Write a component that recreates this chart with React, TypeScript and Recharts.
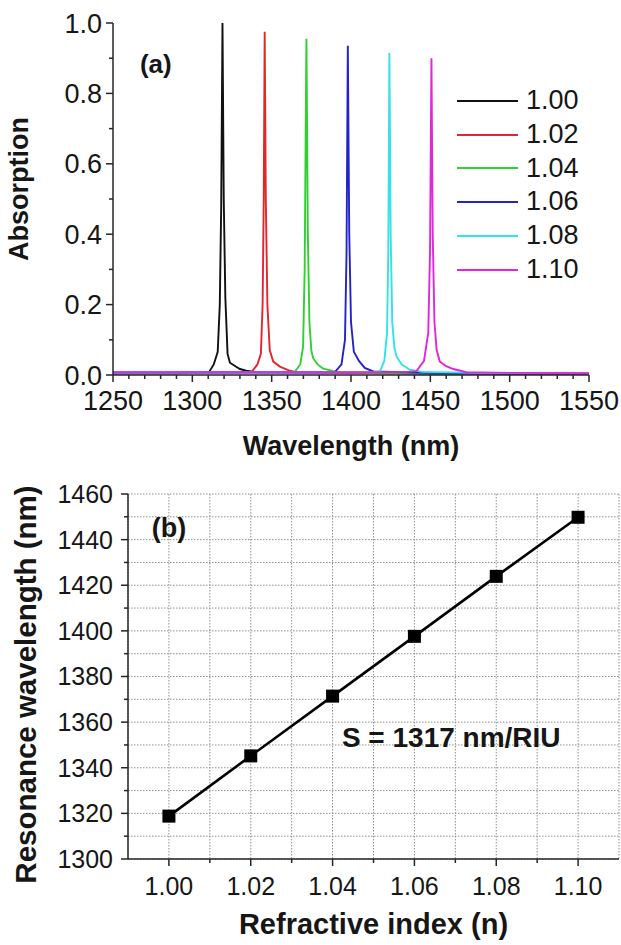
import React from 'react';
import { LineChart, Line, XAxis, YAxis, CartesianGrid, ReferenceDot, Label } from 'recharts';

const FONT = '"Liberation Sans", Arial, Helvetica, sans-serif';
const AXIS = '#262626';
const TEXT = '#161616';

// ---- (a) absorption spectra ----
const seriesNames = ['1.00', '1.02', '1.04', '1.06', '1.08', '1.10'];
const seriesColors = ['#111111', '#e3262b', '#2fd02f', '#2323cc', '#31e3ea', '#e027de'];

const wl100 = [1250, 1290, 1305, 1310.5, 1313.5, 1316, 1317.3, 1318.2, 1319, 1319.8, 1320.8, 1322.2, 1323.7, 1327.4, 1330, 1334, 1340.5, 1380, 1450, 1550];
const ab100 = [0.004, 0.005, 0.006, 0.008, 0.03, 0.066, 0.2, 0.48, 1.0, 0.5, 0.22, 0.06, 0.035, 0.024, 0.017, 0.012, 0.008, 0.006, 0.004, 0.003];

const wl102 = [1250, 1300, 1330, 1337.3, 1341, 1343.2, 1344.3, 1345, 1345.6, 1346.3, 1347.3, 1348.8, 1351, 1355.2, 1361.5, 1365.7, 1400, 1480, 1550];
const ab102 = [0.006, 0.006, 0.007, 0.008, 0.03, 0.06, 0.2, 0.5, 0.975, 0.5, 0.2, 0.07, 0.038, 0.024, 0.012, 0.008, 0.006, 0.005, 0.004];

const wl104 = [1250, 1320, 1355, 1364.6, 1368, 1369.8, 1370.8, 1371.9, 1372.8, 1373.8, 1375, 1376.2, 1379, 1382.5, 1391, 1420, 1550];
const ab104 = [0.007, 0.007, 0.008, 0.009, 0.03, 0.08, 0.3, 0.955, 0.4, 0.15, 0.07, 0.047, 0.03, 0.018, 0.009, 0.006, 0.004];

const wl106 = [1250, 1350, 1385, 1390, 1394, 1396.2, 1397.2, 1398, 1398.9, 1400, 1401.8, 1405, 1408.7, 1414, 1450, 1550];
const ab106 = [0.007, 0.007, 0.008, 0.009, 0.03, 0.1, 0.35, 0.935, 0.4, 0.15, 0.066, 0.04, 0.02, 0.01, 0.006, 0.004];

const wl108 = [1250, 1380, 1415, 1418.2, 1421, 1422.7, 1423.5, 1424.2, 1425, 1426, 1427.3, 1428.7, 1432, 1437, 1445, 1480, 1550];
const ab108 = [0.007, 0.007, 0.008, 0.01, 0.04, 0.12, 0.35, 0.915, 0.4, 0.15, 0.08, 0.052, 0.03, 0.015, 0.009, 0.006, 0.004];

const wl110 = [1250, 1400, 1435, 1441.3, 1446, 1448.7, 1449.8, 1450.7, 1451.5, 1452.6, 1454, 1456, 1460, 1464.4, 1472.8, 1500, 1550];
const ab110 = [0.008, 0.008, 0.009, 0.011, 0.04, 0.12, 0.35, 0.9, 0.4, 0.15, 0.07, 0.038, 0.025, 0.017, 0.008, 0.006, 0.005];

const spectraWl = [wl100, wl102, wl104, wl106, wl108, wl110];
const spectraAb = [ab100, ab102, ab104, ab106, ab108, ab110];

const xTicksA = [1250, 1260, 1270, 1280, 1290, 1300, 1310, 1320, 1330, 1340, 1350, 1360, 1370, 1380, 1390, 1400, 1410, 1420, 1430, 1440, 1450, 1460, 1470, 1480, 1490, 1500, 1510, 1520, 1530, 1540, 1550];
const xMajorA = [1250, 1300, 1350, 1400, 1450, 1500, 1550];
const yTicksA = [0, 0.1, 0.2, 0.3, 0.4, 0.5, 0.6, 0.7, 0.8, 0.9, 1.0];
const yMajorA = [0, 0.2, 0.4, 0.6, 0.8, 1.0];

// ---- (b) resonance wavelength vs refractive index ----
const refIndex = [1.0, 1.02, 1.04, 1.06, 1.08, 1.1];
const resonance = [1318.8, 1345.2, 1371.4, 1397.6, 1423.9, 1449.8];

const xTicksB = [1.0, 1.01, 1.02, 1.03, 1.04, 1.05, 1.06, 1.07, 1.08, 1.09, 1.1];
const xMajorB = [1.0, 1.02, 1.04, 1.06, 1.08, 1.1];
const yTicksB = [1300, 1310, 1320, 1330, 1340, 1350, 1360, 1370, 1380, 1390, 1400, 1410, 1420, 1430, 1440, 1450, 1460];
const yMajorB = [1300, 1320, 1340, 1360, 1380, 1400, 1420, 1440, 1460];

const spectra = spectraWl.map((wl, s) => wl.map((x, i) => ({ x, y: spectraAb[s][i] })));
const dataB = refIndex.map((n, i) => ({ n, wl: resonance[i] }));

const isMajor = (v: number, majors: number[]) => majors.some((m) => Math.abs(m - v) < 1e-6);

const titleText = { fontFamily: FONT, fontWeight: 700, fill: TEXT };

function Tick(props: any) {
  const { x, y, payload, side, majors, fmt, gap = 11, base = 35, size = 27 } = props;
  const major = isMajor(payload.value, majors);
  const len = major ? 7 : 4;
  const style = { fontSize: size, fontFamily: FONT, fill: TEXT };
  if (side === 'bottom') {
    return (
      <g>
        <line x1={x} x2={x} y1={y} y2={y + len} stroke={AXIS} strokeWidth={1.5} />
        {major && (
          <text x={x} y={y + base} textAnchor="middle" style={style}>
            {fmt(payload.value)}
          </text>
        )}
      </g>
    );
  }
  if (side === 'left') {
    return (
      <g>
        <line x1={x} x2={x - len} y1={y} y2={y} stroke={AXIS} strokeWidth={1.5} />
        {major && (
          <text x={x - gap} y={y + size * 0.355} textAnchor="end" style={style}>
            {fmt(payload.value)}
          </text>
        )}
      </g>
    );
  }
  if (side === 'top') {
    return <line x1={x} x2={x} y1={y} y2={y + len} stroke={AXIS} strokeWidth={1.5} />;
  }
  return <line x1={x} x2={x - len} y1={y} y2={y} stroke={AXIS} strokeWidth={1.5} />;
}

function XTitle(props: any) {
  const { viewBox, text, dy, size } = props;
  return (
    <text x={viewBox.x + viewBox.width / 2} y={viewBox.y + dy} textAnchor="middle" style={{ ...titleText, fontSize: size }}>
      {text}
    </text>
  );
}

function YTitle(props: any) {
  const { viewBox, text, bx, shift, size } = props;
  const cy = viewBox.y + viewBox.height / 2 + shift;
  return (
    <text
      transform={`translate(${viewBox.x + bx},${cy}) rotate(-90)`}
      textAnchor="middle"
      style={{ ...titleText, fontSize: size }}
    >
      {text}
    </text>
  );
}

function SquareDot(props: any) {
  const { cx, cy, index } = props;
  if (cx == null || cy == null) return null;
  return <rect key={`sq-${index}`} x={cx - 6.5} y={cy - 6.5} width={13} height={13} fill="#000" />;
}

const axisLine = { stroke: AXIS, strokeWidth: 1.5 };
const fmtInt = (v: number) => String(v);
const fmt1 = (v: number) => v.toFixed(1);
const fmt2 = (v: number) => v.toFixed(2);

function Legend() {
  return (
    <div style={{ position: 'absolute', left: 457, top: 84, fontFamily: FONT }}>
      {seriesNames.map((name, i) => (
        <div key={name} style={{ display: 'flex', alignItems: 'center', height: 33.8 }}>
          <svg width={61} height={4}>
            <line x1={0} x2={61} y1={2} y2={2} stroke={seriesColors[i]} strokeWidth={2} />
          </svg>
          <span style={{ marginLeft: 8, fontSize: 27, color: TEXT, lineHeight: '33.8px' }}>{name}</span>
        </div>
      ))}
    </div>
  );
}

export default function App() {
  return (
    <div style={{ position: 'absolute', left: 0, top: 0, width: 621, height: 945, background: '#fff', fontFamily: FONT }}>
      <div style={{ position: 'absolute', left: 0, top: 0 }}>
        <LineChart width={621} height={470} margin={{ top: 23, right: 32, bottom: 0, left: 0 }}>
          <XAxis
            dataKey="x"
            type="number"
            domain={[1250, 1550]}
            ticks={xTicksA}
            interval={0}
            height={95}
            tickSize={0}
            tickMargin={0}
            axisLine={axisLine}
            tick={<Tick side="bottom" majors={xMajorA} fmt={fmtInt} base={35} />}
            allowDataOverflow
          >
            <Label content={(p: any) => <XTitle {...p} text="Wavelength (nm)" dy={80} size={27} />} />
          </XAxis>
          <XAxis
            xAxisId="top"
            orientation="top"
            type="number"
            domain={[1250, 1550]}
            ticks={xTicksA}
            interval={0}
            height={0}
            tickSize={0}
            tickMargin={0}
            axisLine={axisLine}
            tick={<Tick side="top" majors={xMajorA} />}
            allowDataOverflow
          />
          <YAxis
            type="number"
            domain={[0, 1]}
            ticks={yTicksA}
            interval={0}
            width={113}
            tickSize={0}
            tickMargin={0}
            axisLine={axisLine}
            tick={<Tick side="left" majors={yMajorA} fmt={fmt1} gap={11} />}
            allowDataOverflow
          >
            <Label content={(p: any) => <YTitle {...p} text="Absorption" bx={28} shift={-10} size={27} />} />
          </YAxis>
          <YAxis
            yAxisId="right"
            orientation="right"
            type="number"
            domain={[0, 1]}
            ticks={yTicksA}
            interval={0}
            width={0}
            tickSize={0}
            tickMargin={0}
            axisLine={axisLine}
            tick={<Tick side="right" majors={yMajorA} />}
            allowDataOverflow
          />
          {spectra.map((d, i) => (
            <Line
              key={seriesNames[i]}
              data={d}
              dataKey="y"
              name={seriesNames[i]}
              type="linear"
              stroke={seriesColors[i]}
              strokeWidth={1.9}
              dot={false}
              activeDot={false}
              isAnimationActive={false}
            />
          ))}
          <ReferenceDot
            x={1277}
            y={0.884}
            r={0}
            fill="none"
            stroke="none"
            ifOverflow="visible"
            label={{ value: '(a)', position: 'center', style: { ...titleText, fontSize: 26 } }}
          />
        </LineChart>
      </div>
      <Legend />
      <div style={{ position: 'absolute', left: 0, top: 470 }}>
        <LineChart width={621} height={475} data={dataB} margin={{ top: 24, right: 2, bottom: 0, left: 0 }}>
          <CartesianGrid stroke="#8f8f8f" strokeDasharray="1.5 1.5" strokeWidth={1} />
          <XAxis
            dataKey="n"
            type="number"
            domain={[0.99, 1.11]}
            ticks={xTicksB}
            interval={0}
            height={86}
            tickSize={0}
            tickMargin={0}
            axisLine={axisLine}
            tick={<Tick side="bottom" majors={xMajorB} fmt={fmt2} base={36} size={25} />}
            allowDataOverflow
          >
            <Label content={(p: any) => <XTitle {...p} text="Refractive index (n)" dy={75} size={29} />} />
          </XAxis>
          <XAxis
            xAxisId="top"
            orientation="top"
            type="number"
            domain={[0.99, 1.11]}
            ticks={xTicksB}
            interval={0}
            height={0}
            tickSize={0}
            tickMargin={0}
            axisLine={axisLine}
            tick={<Tick side="top" majors={xMajorB} />}
            allowDataOverflow
          />
          <YAxis
            type="number"
            domain={[1300, 1460]}
            ticks={yTicksB}
            interval={0}
            width={128}
            tickSize={0}
            tickMargin={0}
            axisLine={axisLine}
            tick={<Tick side="left" majors={yMajorB} fmt={fmtInt} gap={15} size={25} />}
            allowDataOverflow
          >
            <Label
              content={(p: any) => <YTitle {...p} text="Resonance wavelength (nm)" bx={36} shift={8} size={29.5} />}
            />
          </YAxis>
          <YAxis
            yAxisId="right"
            orientation="right"
            type="number"
            domain={[1300, 1460]}
            ticks={yTicksB}
            interval={0}
            width={0}
            tickSize={0}
            tickMargin={0}
            axisLine={axisLine}
            tick={<Tick side="right" majors={yMajorB} />}
            allowDataOverflow
          />
          <Line
            dataKey="wl"
            type="linear"
            stroke="#000"
            strokeWidth={2.6}
            dot={<SquareDot />}
            activeDot={false}
            isAnimationActive={false}
          />
          <ReferenceDot
            x={1.0}
            y={1445.3}
            r={0}
            fill="none"
            stroke="none"
            ifOverflow="visible"
            label={{ value: '(b)', position: 'center', style: { ...titleText, fontSize: 27 } }}
          />
          <ReferenceDot
            x={1.069}
            y={1353.5}
            r={0}
            fill="none"
            stroke="none"
            ifOverflow="visible"
            label={{ value: 'S = 1317 nm/RIU', position: 'center', style: { ...titleText, fontSize: 28 } }}
          />
        </LineChart>
      </div>
    </div>
  );
}
